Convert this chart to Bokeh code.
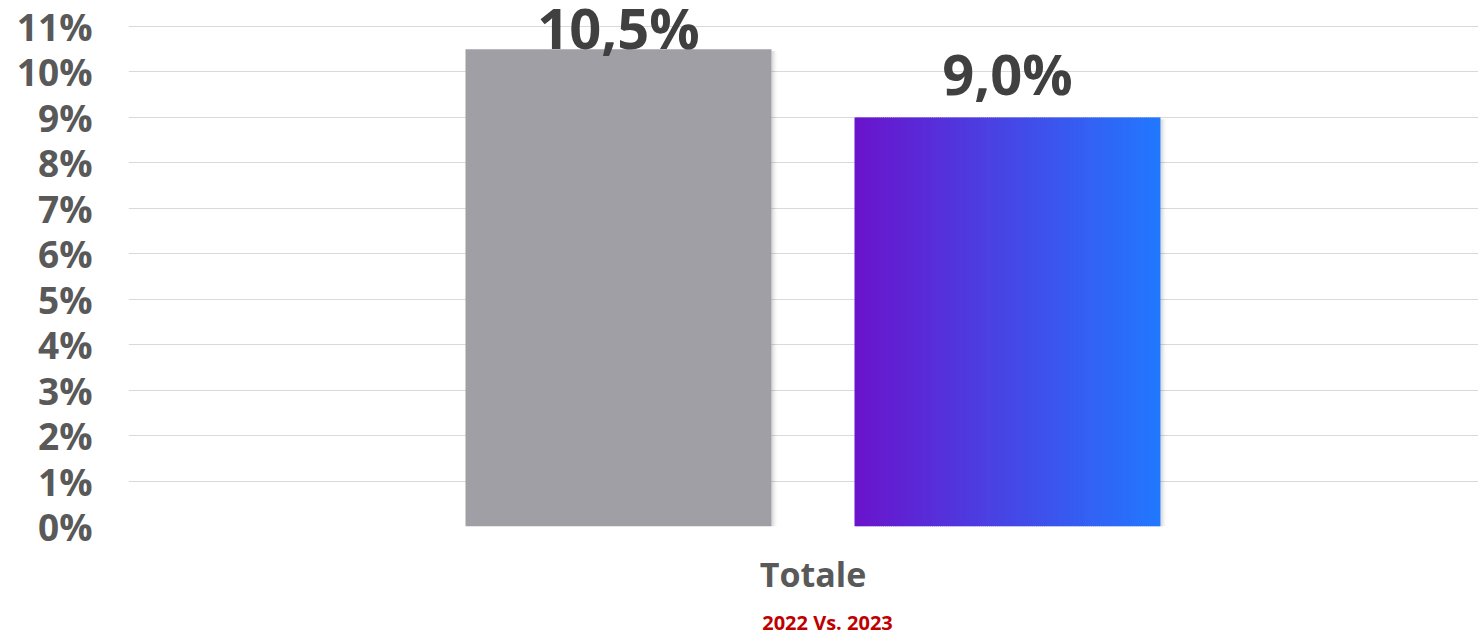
from bokeh.plotting import figure
from bokeh.models import Range1d, FixedTicker, PrintfTickFormatter, LinearAxis, ColumnDataSource
from bokeh.core.properties import value
from bokeh.embed import file_html
from bokeh.resources import INLINE

# ---- data ----
categories = ["Totale"]
series = ["2022", "2023"]
values = [10.5, 9.0]
value_labels = ["10,5%", "9,0%"]
y_ticks = [0, 1, 2, 3, 4, 5, 6, 7, 8, 9, 10, 11]
subtitle = "2022 Vs. 2023"

# ---- styling ----
FONT = "Open Sans"
bar_width = 306
offsets = [-194.5, 194.5]          # dodge offsets of the two series (x units = px)
label_offsets = [-22, -44]         # px (screen) shift of value labels
subtitle_x = 14.5                  # px shift of the subtitle from the category centre
gray = "#a09fa5"
grad_left = (106, 20, 204)
grad_right = (34, 120, 255)

p = figure(width=1478, height=638, output_backend="svg", toolbar_location=None,
           x_range=Range1d(-684.5, 665.5), y_range=Range1d(0, 11.572),
           min_border_left=128, min_border_right=0, min_border_top=0, min_border_bottom=112)
p.outline_line_color = None
p.background_fill_color = "white"
p.border_fill_color = "white"

# grid
p.xgrid.grid_line_color = None
p.ygrid.grid_line_color = "#d9d9d9"
p.ygrid.grid_line_width = 1

# y axis
p.yaxis.ticker = FixedTicker(ticks=y_ticks)
p.yaxis.formatter = PrintfTickFormatter(format="%d%%")
p.yaxis.axis_line_color = None
p.yaxis.major_tick_line_color = None
p.yaxis.minor_tick_line_color = None
p.yaxis.major_label_text_font = FONT
p.yaxis.major_label_text_font_style = "bold"
p.yaxis.major_label_text_font_size = "37px"
p.yaxis.major_label_text_color = "#595959"
p.yaxis.major_label_standoff = 30

# x axis
p.xaxis.ticker = FixedTicker(ticks=[0])
p.xaxis.major_label_overrides = {0: categories[0]}
p.xaxis.axis_line_color = None
p.xaxis.major_tick_line_color = None
p.xaxis.minor_tick_line_color = None
p.xaxis.major_label_text_font = FONT
p.xaxis.major_label_text_font_style = "bold"
p.xaxis.major_label_text_font_size = "34px"
p.xaxis.major_label_text_color = "#595959"
p.xaxis.major_label_standoff = 18

# second (subtitle) axis below
ax2 = LinearAxis(ticker=FixedTicker(ticks=[subtitle_x]),
                 major_label_overrides={subtitle_x: subtitle},
                 axis_line_color=None, major_tick_line_color=None, minor_tick_line_color=None,
                 major_label_text_font=FONT, major_label_text_font_style="bold",
                 major_label_text_font_size="20px", major_label_text_color="#c00000",
                 major_label_standoff=3)
p.add_layout(ax2, "below")

centers = [0 + o for o in offsets]

# shadows
for c, v in zip(centers, values):
    r = c + bar_width / 2
    for k in range(7):
        p.quad(left=[r + k], right=[r + k + 1], bottom=[0], top=[v - 0.04],
               fill_color="black", fill_alpha=0.16 * (1 - k / 7) ** 2, line_color=None)

# bar 1: solid gray
p.quad(left=[centers[0] - bar_width / 2], right=[centers[0] + bar_width / 2],
       bottom=[0], top=[values[0]], fill_color=gray, line_color=None)

# bar 2: horizontal gradient made of thin strips
N = 150
l2 = centers[1] - bar_width / 2
step = bar_width / N
lefts, rights, cols = [], [], []
for i in range(N):
    t = i / (N - 1)
    rgb = tuple(int(round(a + (b - a) * t)) for a, b in zip(grad_left, grad_right))
    lefts.append(l2 + i * step)
    rights.append(l2 + (i + 1) * step + (0.8 if i < N - 1 else 0))
    cols.append("#%02x%02x%02x" % rgb)
src = ColumnDataSource(dict(left=lefts, right=rights, color=cols,
                            top=[values[1]] * N, bottom=[0] * N))
p.quad(left="left", right="right", top="top", bottom="bottom", fill_color="color",
       line_color=None, source=src)

# value labels
for c, v, lab, off in zip(centers, values, value_labels, label_offsets):
    p.text(x=[c], y=[v], text=[lab], y_offset=off, text_align="center",
           text_baseline="alphabetic", text_font=value(FONT), text_font_style="bold",
           text_font_size="56px", text_color="#404040")

open("out.html", "w").write(file_html(p, INLINE))
